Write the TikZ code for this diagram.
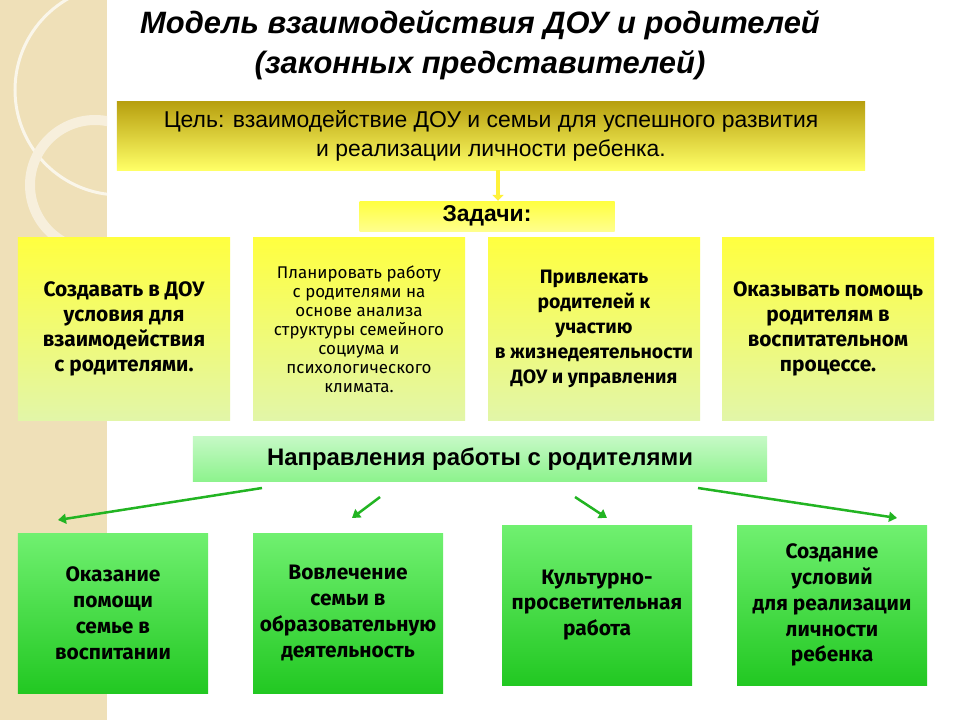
\documentclass[tikz,border=0pt]{standalone}
\usepackage{fontspec}
\setmainfont{Liberation Sans}
\newfontfamily\tf{Fira Sans}
\usetikzlibrary{arrows.meta,shadings}
\definecolor{beige}{HTML}{EFE0B8}
\definecolor{gold}{HTML}{B8A010}
\definecolor{yel}{HTML}{FFFF40}
\definecolor{lgr}{HTML}{E2F6A8}
\definecolor{gtop}{HTML}{70F070}
\definecolor{gbot}{HTML}{22C822}
\definecolor{arr}{HTML}{22B422}
\tikzset{
 goalbox/.style={top color=gold,bottom color=yel!80!white,draw=none},
 taskbox/.style={top color=yel,bottom color=lgr,draw=none,minimum width=212bp,minimum height=182bp,align=center,font=\tf\bfseries\fontsize{21}{25}\selectfont},
 dirbox/.style={top color=gtop!40!white,bottom color=gtop!80!white,draw=none},
 botbox/.style={top color=gtop,bottom color=gbot,draw=none,minimum width=190bp,minimum height=160bp,align=center,font=\tf\bfseries\fontsize{21}{26}\selectfont},
 garrow/.style={draw=arr,line width=2.5bp,-{Triangle[length=8bp,width=10bp]}}
}
\begin{document}
\begin{tikzpicture}[x=1bp,y=-1bp]
\useasboundingbox (0,0) rectangle (960,720);
\fill[white] (0,0) rectangle (960,720);
\fill[beige] (0,0) rectangle (107,720);
\begin{scope}
\clip (0,0) rectangle (107,720);
\draw[white!70!beige,line width=3bp] (120,90) circle (105);
\draw[white!50!beige,line width=10bp] (95,185) circle (65);
\end{scope}
\node[font=\bfseries\itshape\fontsize{31}{40}\selectfont,align=center] (title) at (480,45) {Модель взаимодействия ДОУ и родителей\\(законных представителей)};
\node[goalbox,minimum width=748bp,minimum height=68bp,align=center,font=\fontsize{23}{29}\selectfont] (goal) at (491,136) {Цель: взаимодействие ДОУ и семьи для успешного развития\\ и реализации личности ребенка.};
\node[top color=yel,bottom color=yel!60!white,minimum width=255bp,minimum height=30bp,font=\bfseries\fontsize{23}{24}\selectfont] (tasks) at (487,216) {Задачи:};
\draw[draw=yel!90!orange,line width=4bp,-{Triangle[length=6bp,width=11bp]}] (goal.south -| 498,0) -- (tasks.north -| 498,0);
\node[taskbox] (t1) at (124,329) {Создавать в ДОУ\\условия для\\взаимодействия\\с родителями.};
\node[taskbox,font=\tf\fontsize{17}{19}\selectfont] (t2) at (359,329) {Планировать работу\\с родителями на\\основе анализа\\структуры семейного\\социума и\\психологического\\климата.};
\node[taskbox,font=\tf\bfseries\fontsize{19.5}{25}\selectfont] (t3) at (594,329) {Привлекать\\родителей к\\участию\\в жизнедеятельности\\ДОУ и управления};
\node[taskbox] (t4) at (828,329) {Оказывать помощь\\родителям в\\воспитательном\\процессе.};
\node[dirbox,minimum width=574bp,minimum height=45bp,font=\bfseries\fontsize{24}{26}\selectfont] (dir) at (480,459) {Направления работы с родителями};
\node[botbox] (b1) at (113,613) {Оказание\\помощи\\семье в\\воспитании};
\node[botbox] (b2) at (348,613) {Вовлечение\\семьи в\\образовательную\\деятельность};
\node[botbox] (b3) at (597,605) {Культурно-\\просветительная\\работа};
\node[botbox] (b4) at (832,605) {Создание\\условий\\для реализации\\личности\\ребенка};
\coordinate (a1) at (262,488); \coordinate (a2) at (380,497);
\coordinate (a3) at (575,497); \coordinate (a4) at (698,488);
\draw[garrow] (a1) -- (58,520);
\draw[garrow] (a2) -- (352,518);
\draw[garrow] (a3) -- (607,518);
\draw[garrow] (a4) -- (897,518);
\end{tikzpicture}
\end{document}
